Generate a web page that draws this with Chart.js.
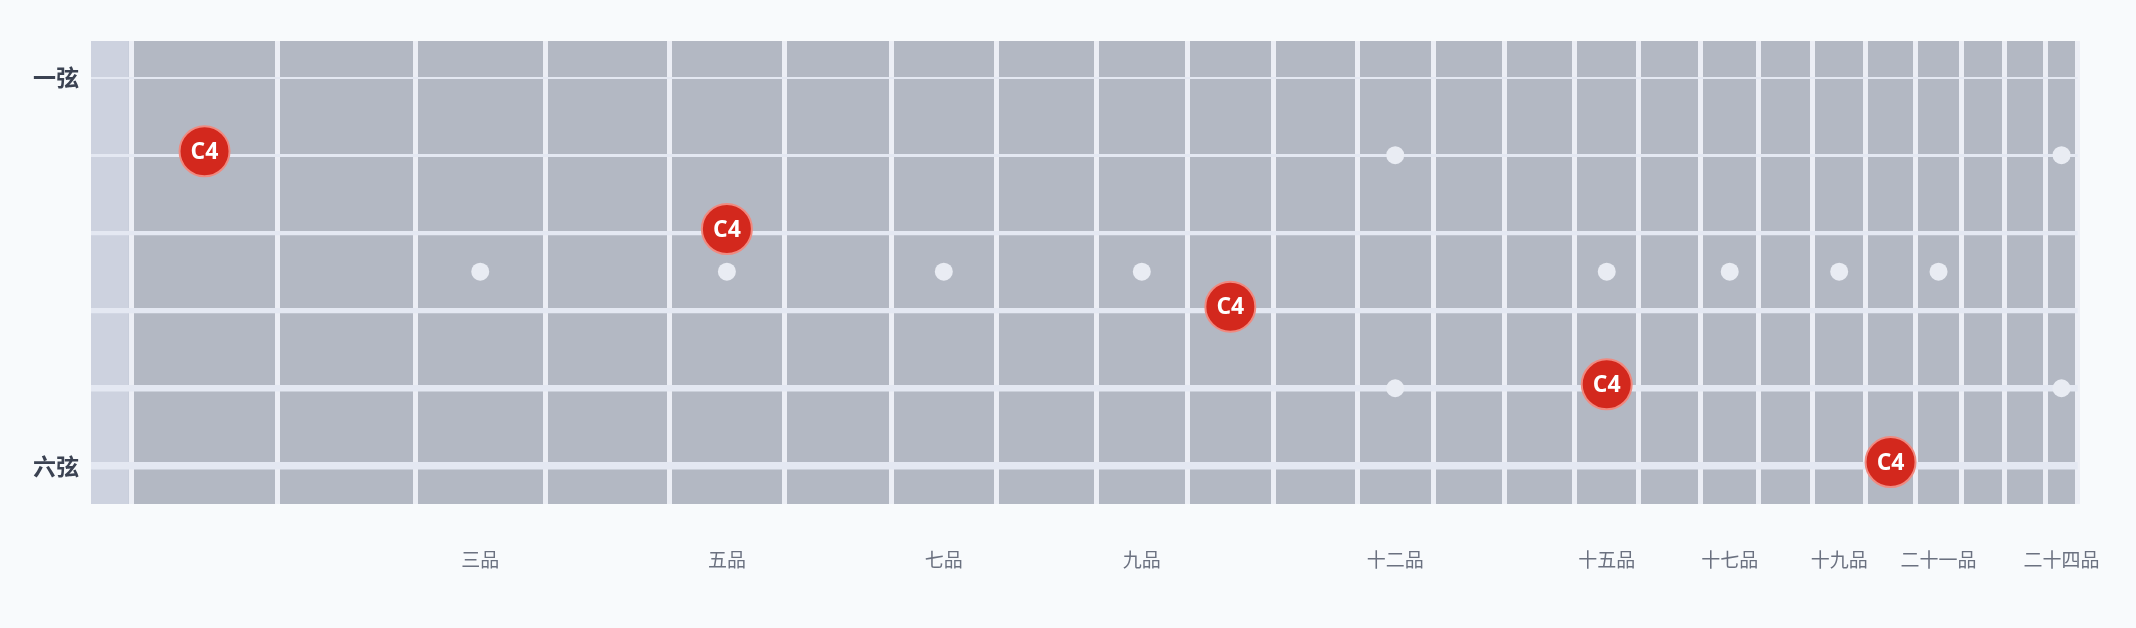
<!DOCTYPE html>
<html><head><meta charset="utf-8">
<script src="https://cdn.jsdelivr.net/npm/chart.js@4"></script>
<style>html,body{margin:0;background:#f8fafc}#wrap{width:2136px;height:628px}</style>
</head><body><div id="wrap"><canvas id="c"></canvas></div>
<script>
// fret line positions (left edge = 67, right edge = 1537)
const fretLines = [97, 205, 307, 403, 495, 580, 659, 737, 811, 878, 942, 1004, 1060, 1113, 1165, 1212, 1258, 1301, 1341, 1380, 1417, 1451, 1483, 1513, 1537];
const strings = [1, 2, 3, 4, 5, 6];
const stringLabels = { 1: '一弦', 6: '六弦' };
// C4 positions: [fret, string]
const noteFrets = [1, 5, 10, 15, 20];
const noteStrings = [2, 3, 4, 5, 6];
const noteName = 'C4';
// inlay dots
const dotFrets = [3, 5, 7, 9, 12, 12, 15, 17, 19, 21, 24, 24];
const dotStrings = [3.5, 3.5, 3.5, 3.5, 2, 5, 3.5, 3.5, 3.5, 3.5, 2, 5];
const fretLabels = { 3: '三品', 5: '五品', 7: '七品', 9: '九品', 12: '十二品', 15: '十五品', 17: '十七品', 19: '十九品', 21: '二十一品', 24: '二十四品' };

const mid = f => (fretLines[f - 1] + fretLines[f]) / 2;
const labelFrets = Object.keys(fretLabels).map(Number);

const bgPlugin = {
  id: 'board',
  beforeDraw(chart) {
    const { ctx, chartArea: a, scales: { x } } = chart;
    ctx.save();
    ctx.fillStyle = '#b3b8c3';
    ctx.fillRect(a.left, a.top, a.right - a.left, a.bottom - a.top);
    ctx.fillStyle = '#cdd2df';
    ctx.fillRect(a.left, a.top, x.getPixelForValue(95) - a.left, a.bottom - a.top);
    ctx.restore();
  },
  afterDatasetsDraw(chart) {
    const { ctx } = chart;
    const meta = chart.getDatasetMeta(1);
    ctx.save();
    ctx.fillStyle = '#fff';
    ctx.font = 'bold 23px "Open Sans", sans-serif';
    ctx.textAlign = 'center';
    ctx.textBaseline = 'middle';
    meta.data.forEach(p => ctx.fillText(noteName, p.x, p.y + 1));
    ctx.restore();
  }
};

new Chart(document.getElementById('c'), {
  type: 'scatter',
  data: {
    datasets: [
      { data: dotFrets.map((f, i) => ({ x: mid(f), y: dotStrings[i] })), backgroundColor: '#e9ecf3', borderWidth: 0, pointRadius: 9, pointHoverRadius: 9 },
      { data: noteFrets.map((f, i) => ({ x: mid(f), y: noteStrings[i] - 0.05 })), backgroundColor: '#d3281d', borderColor: '#f08a80', borderWidth: 2, pointRadius: 25, pointHoverRadius: 25 }
    ]
  },
  plugins: [bgPlugin],
  options: {
    responsive: true, maintainAspectRatio: false, animation: false,
    layout: { padding: { top: 41, right: 42, left: 0, bottom: 0 } },
    plugins: { legend: { display: false }, tooltip: { enabled: false } },
    scales: {
      x: {
        type: 'linear', min: 67, max: 1537,
        afterBuildTicks: s => { s.ticks = fretLines.map(v => ({ value: v })); },
        afterFit: s => { s.height = 0; },
        ticks: { display: false },
        border: { display: false },
        grid: { color: '#eceef5', lineWidth: 5, drawTicks: false }
      },
      x2: {
        type: 'linear', position: 'bottom', min: 67, max: 1537,
        afterBuildTicks: s => { s.ticks = labelFrets.map(f => ({ value: mid(f) })); },
        afterFit: s => { s.height = 124; },
        ticks: {
          padding: 36, maxRotation: 0, autoSkip: false,
          color: '#6b7180', font: { size: 19, family: '"Noto Sans CJK SC", sans-serif' },
          callback: (v) => { const f = labelFrets.find(k => Math.abs(mid(k) - v) < 0.01); return fretLabels[f]; }
        },
        border: { display: false },
        grid: { display: false }
      },
      y: {
        type: 'linear', reverse: true, min: 0.53, max: 6.49,
        afterBuildTicks: s => { s.ticks = strings.map(v => ({ value: v })); },
        afterFit: s => { s.width = 91; },
        ticks: {
          padding: 12, color: '#3b4252',
          font: { size: 23, weight: 'bold', family: '"Noto Sans CJK SC", sans-serif' },
          callback: v => stringLabels[v] || ''
        },
        border: { display: false },
        grid: { color: '#e4e8f2', lineWidth: c => 2 + (c.index || 0) * 1.1, drawTicks: false }
      }
    }
  }
});
</script></body></html>
